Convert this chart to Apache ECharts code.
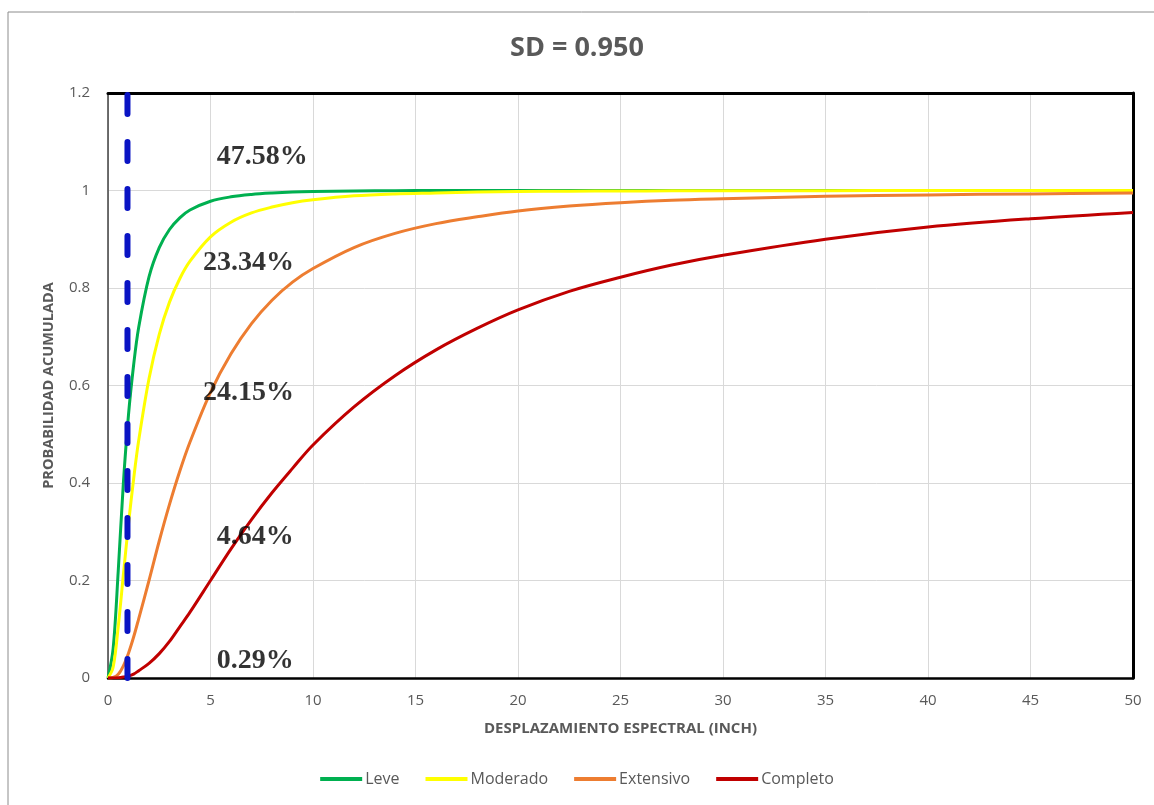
<!DOCTYPE html>
<html>
<head>
<meta charset="utf-8">
<title>Curvas de fragilidad</title>
<script src="https://cdn.jsdelivr.net/npm/echarts@6/dist/echarts.min.js"></script>
<style>
  html, body { margin: 0; padding: 0; background: #ffffff; }
  #chart { width: 1154px; height: 805px; }
</style>
</head>
<body>
<div id="chart"></div>
<script>
// Spectral displacement under study (inch)
const sd = 0.95;

// Spectral displacement samples (inch)
const sdValues = [0, 0.25, 0.5, 0.75, 1, 1.25, 1.5, 2, 2.5, 3, 3.5, 4, 5, 6, 7, 8, 9, 10,
                  12, 14, 16, 18, 20, 22.5, 25, 27.5, 30, 35, 40, 45, 50];

// Cumulative probability for each damage state
const leve = [0, 0.06, 0.22, 0.40, 0.54, 0.642, 0.72, 0.823, 0.883, 0.92, 0.944, 0.96, 0.978, 0.987,
              0.992, 0.995, 0.997, 0.998, 0.999, 0.9995, 1, 1, 1, 1, 1, 1, 1, 1, 1, 1, 1];
const moderado = [0, 0.022, 0.106, 0.212, 0.316, 0.408, 0.488, 0.614, 0.705, 0.771, 0.819, 0.855,
                  0.905, 0.935, 0.954, 0.966, 0.975, 0.981, 0.989, 0.993, 0.995, 0.997, 0.998,
                  0.9985, 0.999, 0.9993, 0.9995, 0.9997, 0.9998, 0.9999, 1];
const extensivo = [0, 0.001, 0.0075, 0.025, 0.051, 0.084, 0.122, 0.20, 0.281, 0.356, 0.424, 0.484,
                   0.586, 0.665, 0.727, 0.775, 0.812, 0.84, 0.883, 0.912, 0.932, 0.946, 0.958,
                   0.968, 0.975, 0.98, 0.983, 0.988, 0.991, 0.993, 0.995];
const completo = [0, 0, 0.0006, 0.002, 0.004, 0.008, 0.015, 0.03, 0.05, 0.075, 0.105, 0.135, 0.2,
                  0.265, 0.325, 0.38, 0.43, 0.478, 0.556, 0.62, 0.673, 0.717, 0.755, 0.793, 0.822,
                  0.847, 0.867, 0.9, 0.925, 0.942, 0.955];

// Probability of each damage state at sd (%): none, leve, moderado, extensivo, completo
const damagePct = [47.58, 23.34, 24.15, 4.64, 0.29];

const seriesNames = ['Leve', 'Moderado', 'Extensivo', 'Completo'];
const seriesColors = ['#00b050', '#ffff00', '#ed7d31', '#c00000'];
const seriesValues = [leve, moderado, extensivo, completo];

// Tick labels
const xTicks = [0, 5, 10, 15, 20, 25, 30, 35, 40, 45, 50];
const yTicks = ['0', '0.2', '0.4', '0.6', '0.8', '1', '1.2'];

const gray = '#595959';
const uiFont = '"Open Sans", "Noto Sans", sans-serif';

// Where each percentage is written (data coordinates, left edge / middle of the text)
const pctAnchors = [[5.3, 1.069], [4.63, 0.851], [4.63, 0.585], [5.3, 0.289], [5.3, 0.035]];

const curveSeries = seriesNames.map((name, k) => ({
  name: name,
  type: 'line',
  data: sdValues.map((x, i) => [x, seriesValues[k][i]]),
  smooth: 0.35,
  showSymbol: false,
  symbol: 'none',
  lineStyle: { color: seriesColors[k], width: 3 },
  itemStyle: { color: seriesColors[k] },
  z: 3 + k
}));

const chart = echarts.init(document.getElementById('chart'), null, { renderer: 'canvas' });

chart.setOption({
  animation: false,
  backgroundColor: '#ffffff',
  title: {
    text: 'SD = ' + sd.toFixed(3),
    left: 'center',
    top: 30,
    textStyle: { fontFamily: uiFont, fontSize: 27, fontWeight: 'bold', color: gray }
  },
  legend: {
    data: seriesNames,
    bottom: 13,
    left: 'center',
    icon: 'rect',
    itemWidth: 42,
    itemHeight: 4,
    itemGap: 26,
    textStyle: { fontFamily: uiFont, fontSize: 16, color: gray, padding: [0, 0, 0, -2] }
  },
  grid: { left: 108, right: 21, top: 93, bottom: 127, containLabel: false },
  graphic: [{
    type: 'rect',
    shape: { x: 8, y: 12, width: 1300, height: 1000 },
    style: { fill: 'none', stroke: '#8c8c8c', lineWidth: 1 },
    silent: true,
    z: -10
  }],
  xAxis: [{
    type: 'value',
    min: 0,
    max: 50,
    interval: 5,
    name: 'DESPLAZAMIENTO ESPECTRAL (INCH)',
    nameLocation: 'middle',
    nameGap: 43,
    nameTextStyle: { fontFamily: uiFont, fontSize: 15, fontWeight: 'bold', color: gray },
    axisLine: { show: true, onZero: false, lineStyle: { color: '#000000', width: 2.5 } },
    axisTick: { show: false },
    axisLabel: {
      margin: 15, fontFamily: uiFont, fontSize: 15, color: gray,
      formatter: v => (xTicks.indexOf(v) >= 0 ? String(v) : '')
    },
    splitLine: { show: true, lineStyle: { color: '#d9d9d9', width: 1 } }
  }, {
    type: 'value',
    position: 'top',
    min: 0,
    max: 50,
    axisLine: { show: true, onZero: false, lineStyle: { color: '#000000', width: 3 } },
    axisTick: { show: false },
    axisLabel: { show: false },
    splitLine: { show: false }
  }],
  yAxis: [{
    type: 'value',
    min: 0,
    max: 1.2,
    interval: 0.2,
    name: 'PROBABILIDAD ACUMULADA',
    nameLocation: 'middle',
    nameGap: 52,
    nameTextStyle: { fontFamily: uiFont, fontSize: 14.5, fontWeight: 'bold', color: gray },
    axisLine: { show: true, onZero: false, lineStyle: { color: '#404040', width: 1.5 } },
    axisTick: { show: false },
    axisLabel: {
      margin: 18, fontFamily: uiFont, fontSize: 15, color: gray,
      formatter: v => yTicks[Math.round(v / 0.2)]
    },
    splitLine: { show: true, lineStyle: { color: '#d9d9d9', width: 1 } }
  }, {
    type: 'value',
    position: 'right',
    min: 0,
    max: 1.2,
    axisLine: { show: true, onZero: false, lineStyle: { color: '#000000', width: 3 } },
    axisTick: { show: false },
    axisLabel: { show: false },
    splitLine: { show: false }
  }],
  series: curveSeries.concat([
    {
      name: 'SD',
      type: 'line',
      data: [[sd, 0], [sd, 1.2]],
      showSymbol: false,
      symbol: 'none',
      lineStyle: { color: '#0a14c4', width: 6, type: [19, 28], cap: 'round' },
      silent: true,
      z: 10
    },
    {
      name: 'Porcentajes',
      type: 'scatter',
      symbolSize: 0,
      data: damagePct.map((p, i) => ({ value: [pctAnchors[i][0], pctAnchors[i][1], p] })),
      label: {
        show: true,
        position: 'right',
        distance: 0,
        formatter: params => params.value[2].toFixed(2) + '%',
        fontFamily: '"Liberation Serif", "DejaVu Serif", serif',
        fontWeight: 'bold',
        fontSize: 28,
        color: '#000000'
      },
      silent: true,
      z: 12
    }
  ])
});
</script>
</body>
</html>
